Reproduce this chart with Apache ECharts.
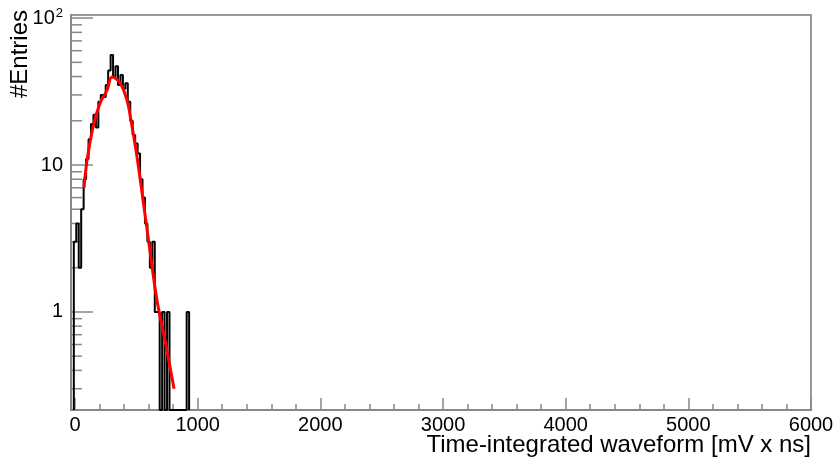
<!DOCTYPE html>
<html><head><meta charset="utf-8">
<script src="https://cdn.jsdelivr.net/npm/echarts@6/dist/echarts.min.js"></script>
<style>html,body{margin:0;padding:0;background:#fff}#c{width:839px;height:461px}</style>
</head><body><div id="c"></div>
<script>
// ---- data ----
const binStart = -10;
const binWidth = 20;
const counts = [3,4,2,5,8,11,15,19,22,18,27,30,29,35,44,56,40,47,35,41,33,36,27,20,16,14,12,8,6,4,3,2,3,1,1,0,1,0,1,0,0,0,0,0,0,0,1];
const fitX = [73,98,147,204,261,302,367,424,448,505,554,611,668,740,807];
const fitY = [7.0,10.8,18.2,26.4,32.3,39.8,36.2,27.5,22,11.4,5.8,2.6,1.2,0.6,0.30];
const yMinorTicks = [0.3,0.4,0.5,0.6,0.7,0.8,0.9,2,3,4,5,6,7,8,9,20,30,40,50,60,70,80,90];
const xRange = [-33, 6000];
const yRange = [0.215, 105];
const xTitle = 'Time-integrated waveform [mV x ns]';
const yTitle = '#Entries';

// ---- build ----
const hist = [[binStart, yRange[0]]];
counts.forEach((c, i) => {
  const lo = binStart + i * binWidth, hi = lo + binWidth;
  const v = Math.max(c, yRange[0]);
  hist.push([lo, v], [hi, v]);
});
hist.push([binStart + counts.length * binWidth, yRange[0]]);
const fit = fitX.map((x, i) => [x, fitY[i]]);

const FONT = '"Liberation Sans", Arial, sans-serif';
const chart = echarts.init(document.getElementById('c'), null, {renderer: 'canvas'});
chart.setOption({
  animation: false,
  backgroundColor: '#fff',
  grid: {left: 71, right: 28, top: 15, bottom: 51, show: true, borderColor: '#999', borderWidth: 2},
  xAxis: {
    type: 'value', min: xRange[0], max: xRange[1], splitNumber: 6,
    axisLine: {show: true, onZero: false, lineStyle: {color: '#888', width: 2}},
    axisTick: {show: true, inside: true, length: 12, lineStyle: {color: '#888', width: 1.5}},
    minorTick: {show: true, splitNumber: 5, length: 6, lineStyle: {color: '#888', width: 1.5}},
    splitLine: {show: false},
    axisLabel: {showMinLabel: false, showMaxLabel: true, margin: 5, color: '#000', fontSize: 20, fontFamily: FONT,
      formatter: v => String(v)}
  },
  yAxis: {
    type: 'log', logBase: 10, min: yRange[0], max: yRange[1],
    axisLine: {show: true, onZero: false, lineStyle: {color: '#888', width: 2}},
    axisTick: {show: true, inside: true, length: 22, lineStyle: {color: '#888', width: 1.5}},
    minorTick: {show: false},
    splitLine: {show: false},
    axisLabel: {
      showMinLabel: false, showMaxLabel: false, margin: 8, color: '#000', fontSize: 20, fontFamily: FONT,
      formatter: v => {
        const e = Math.round(Math.log10(v));
        if (e >= 2) return '{b|10}{s|' + e + '}';
        return '{b|' + Math.round(v) + '}';
      },
      rich: {
        b: {fontSize: 20, fontFamily: FONT, color: '#000'},
        s: {fontSize: 13, fontFamily: FONT, color: '#000', padding: [0, 0, 9, 1]}
      }
    }
  },
  series: [
    {
      type: 'custom', silent: true, clip: true, z: 1,
      data: yMinorTicks.map(v => [xRange[0], v]),
      encode: {x: 0, y: 1},
      renderItem: (params, api) => {
        const p = api.coord([api.value(0), api.value(1)]);
        return {type: 'line', shape: {x1: p[0], y1: p[1], x2: p[0] + 11, y2: p[1]},
                style: {stroke: '#888', lineWidth: 1.5}};
      }
    },
    {
      type: 'line', data: hist, showSymbol: false, clip: true, z: 3,
      lineStyle: {color: '#000', width: 2}
    },
    {
      type: 'line', data: fit, showSymbol: false, smooth: 0.4, clip: true, z: 4,
      lineStyle: {color: '#ff0000', width: 3}
    }
  ],
  graphic: [
    {type: 'text', right: 28, top: 433, style: {text: xTitle, font: '24px ' + FONT, fill: '#000'}},
    {type: 'text', x: 20, y: 10, rotation: Math.PI / 2,
     style: {text: yTitle, font: '24px ' + FONT, fill: '#000', textAlign: 'right', textVerticalAlign: 'middle'}}
  ]
});
</script></body></html>
